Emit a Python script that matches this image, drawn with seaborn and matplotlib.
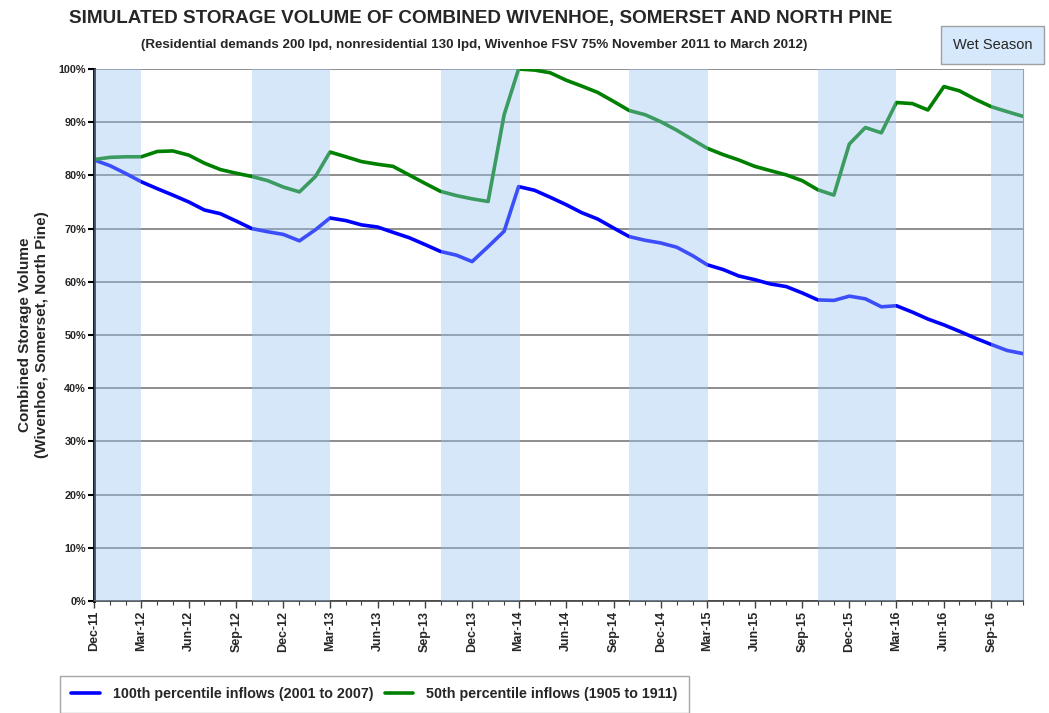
import pandas as pd
import matplotlib
matplotlib.use("Agg")
import matplotlib.pyplot as plt
import matplotlib.dates as mdates
import seaborn as sns

months = pd.date_range("2011-12-01", periods=60, freq="MS")

pct100 = [82.9, 81.8, 80.3, 78.8, 77.5, 76.3, 75.0, 73.5, 72.8, 71.4,
          70.0, 69.4, 68.9, 67.7, 69.8, 72.0, 71.5, 70.7, 70.3, 69.3,
          68.3, 67.0, 65.7, 65.0, 63.8, 66.6, 69.5, 77.9, 77.2, 75.9,
          74.5, 73.0, 71.8, 70.1, 68.5, 67.8, 67.3, 66.5, 64.9, 63.2,
          62.3, 61.1, 60.4, 59.6, 59.1, 57.9, 56.6, 56.5, 57.3, 56.8,
          55.3, 55.5, 54.3, 53.0, 51.9, 50.7, 49.4, 48.2, 47.1, 46.5]

pct50 = [83.0, 83.4, 83.5, 83.5, 84.5, 84.6, 83.8, 82.3, 81.1, 80.4,
         79.8, 79.0, 77.8, 76.9, 79.8, 84.4, 83.5, 82.6, 82.1, 81.7,
         80.1, 78.5, 77.0, 76.2, 75.6, 75.1, 91.4, 100.0, 99.8, 99.3,
         97.9, 96.8, 95.6, 93.9, 92.2, 91.4, 90.1, 88.5, 86.7, 85.1,
         83.9, 82.9, 81.7, 80.9, 80.1, 79.0, 77.3, 76.3, 85.9, 89.0,
         88.0, 93.7, 93.5, 92.3, 96.7, 95.9, 94.3, 92.9, 92.0, 91.1]

series_names = ["100th percentile inflows (2001 to 2007)",
                "50th percentile inflows (1905 to 1911)"]
series_colors = ["#0000ff", "#008000"]

wet_starts = ["2011-12-01", "2012-10-01", "2013-10-01", "2014-10-01", "2015-10-01", "2016-09-01"]
wet_ends = ["2012-03-01", "2013-03-01", "2014-03-03", "2015-03-03", "2016-03-01", "2016-11-01"]

df = pd.DataFrame({
    "Month": list(months) * 2,
    "Storage": pct100 + pct50,
    "Series": [series_names[0]] * len(months) + [series_names[1]] * len(months),
})

sns.set_style("white")
plt.rcParams["font.family"] = ["Liberation Sans", "DejaVu Sans"]

fig = plt.figure(figsize=(10.49, 7.13), dpi=100)
ax = fig.add_axes([0.0899, 0.1571, 0.8853, 0.7461])

sns.lineplot(data=df, x="Month", y="Storage", hue="Series", palette=series_colors,
             linewidth=2.6, legend=False, ax=ax, zorder=2)

# wet season bands sit on top of the lines, semi-transparent
for s, e in zip(wet_starts, wet_ends):
    ax.axvspan(pd.Timestamp(s), pd.Timestamp(e), color="#98c5f2", alpha=0.4, lw=0, zorder=3)

ax.set_ylim(0, 100)
ax.set_xlim(months[0], months[-1])
ax.set_yticks(range(0, 101, 10))
ax.set_yticklabels([f"{v}%" for v in range(0, 101, 10)], fontsize=7.8, fontweight="bold")
ax.yaxis.grid(True, color="#7a7a7a", lw=1.2, zorder=1)
ax.set_axisbelow(True)

ax.xaxis.set_major_locator(mdates.MonthLocator(bymonth=[3, 6, 9, 12]))
ax.xaxis.set_minor_locator(mdates.MonthLocator())
ax.xaxis.set_major_formatter(mdates.DateFormatter("%b-%y"))
plt.setp(ax.get_xticklabels(), rotation=90, fontsize=9, fontweight="bold")
ax.tick_params(axis="x", which="major", length=5, width=1, color="#404040", pad=2, bottom=True)
ax.tick_params(axis="x", which="minor", length=3, width=0.8, color="#404040", bottom=True)
ax.tick_params(axis="y", which="major", length=4, width=1.5, color="black", pad=2, left=True)

ax.set_xlabel("")
ax.set_ylabel("Combined Storage Volume\n(Wivenhoe, Somerset, North Pine)",
              fontsize=11, fontweight="bold", labelpad=7, linespacing=1.25)

ax.spines["left"].set_linewidth(2)
ax.spines["left"].set_color("black")
ax.spines["bottom"].set_linewidth(1.2)
ax.spines["bottom"].set_color("#404040")
ax.spines["right"].set_color("#a0a0a0")
ax.spines["top"].set_visible(False)

fig.text(0.458, 0.974, "SIMULATED STORAGE VOLUME OF COMBINED WIVENHOE, SOMERSET AND NORTH PINE",
         ha="center", va="center", fontsize=13.6, fontweight="bold")
fig.text(0.452, 0.937, "(Residential demands 200 lpd, nonresidential 130 lpd, Wivenhoe FSV 75% November 2011 to March 2012)",
         ha="center", va="center", fontsize=9.6, fontweight="bold")
fig.text(0.946, 0.937, "Wet Season", ha="center", va="center", fontsize=10.5,
         bbox=dict(boxstyle="square,pad=0.8", fc="#d6e8fb", ec="#a0a0a0", lw=1))

handles = ax.get_lines()[:2]
fig.legend(handles, series_names, loc="upper left", bbox_to_anchor=(0.057, 0.052),
           borderaxespad=0, ncol=2, frameon=True, fancybox=False, edgecolor="#909090",
           prop={"weight": "bold", "size": 10.3}, handlelength=2.0, handletextpad=0.9,
           columnspacing=0.8, borderpad=0.8)

fig.savefig("out.png", dpi=100)
